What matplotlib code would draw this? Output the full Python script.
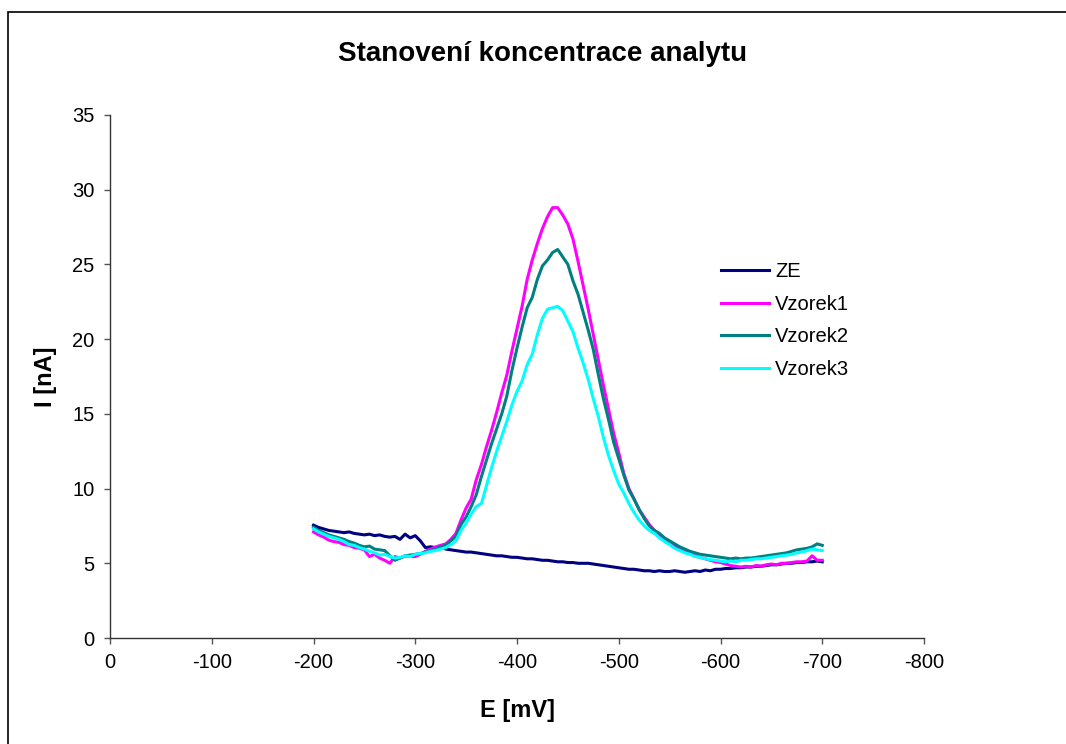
import numpy as np
import matplotlib
matplotlib.use('Agg')
import matplotlib.pyplot as plt
from matplotlib.patches import Rectangle

plt.rcParams['font.family'] = ['Liberation Sans', 'DejaVu Sans']
plt.rcParams['axes.unicode_minus'] = False

# potencial E [mV], krok 5 mV
e_mv = list(range(-200, -701, -5))

ze = [7.55, 7.4, 7.3, 7.2, 7.15, 7.1, 7.05, 7.1, 7.0, 6.95,
      6.9, 6.95, 6.85, 6.9, 6.8, 6.75, 6.8, 6.6, 6.95, 6.7,
      6.85, 6.5, 6.05, 6.1, 6.05, 6.1, 5.95, 5.9, 5.85, 5.8,
      5.75, 5.75, 5.7, 5.65, 5.6, 5.55, 5.5, 5.5, 5.45, 5.4,
      5.4, 5.35, 5.3, 5.3, 5.25, 5.2, 5.2, 5.15, 5.1, 5.1,
      5.05, 5.05, 5.0, 5.0, 5.0, 4.95, 4.9, 4.85, 4.8, 4.75,
      4.7, 4.65, 4.6, 4.6, 4.55, 4.5, 4.5, 4.45, 4.5, 4.45,
      4.45, 4.5, 4.45, 4.4, 4.45, 4.5, 4.45, 4.55, 4.5, 4.6,
      4.6, 4.65, 4.65, 4.7, 4.7, 4.75, 4.75, 4.8, 4.8, 4.85,
      4.9, 4.9, 4.95, 5.0, 5.0, 5.05, 5.05, 5.1, 5.1, 5.15,
      5.1]

vzorek1 = [7.1, 6.9, 6.75, 6.55, 6.45, 6.4, 6.25, 6.2, 6.05, 6.0,
           5.9, 5.45, 5.6, 5.35, 5.2, 5.0, 5.45, 5.35, 5.5, 5.45,
           5.45, 5.6, 5.8, 5.95, 6.1, 6.2, 6.3, 6.6, 7.0, 7.9,
           8.7, 9.3, 10.6, 11.6, 12.8, 13.9, 15.1, 16.4, 17.6, 19.2,
           20.7, 22.2, 24.0, 25.3, 26.4, 27.4, 28.2, 28.8, 28.8, 28.3,
           27.7, 26.7, 25.2, 23.6, 22.0, 20.3, 18.6, 16.9, 15.3, 13.7,
           12.4, 11.0, 10.0, 9.3, 8.6, 8.1, 7.6, 7.2, 6.9, 6.6,
           6.35, 6.15, 6.0, 5.85, 5.7, 5.5, 5.4, 5.3, 5.2, 5.1,
           5.05, 4.95, 4.85, 4.8, 4.75, 4.8, 4.75, 4.85, 4.8, 4.9,
           4.95, 4.9, 5.0, 5.0, 5.05, 5.1, 5.1, 5.15, 5.5, 5.2,
           5.2]

vzorek2 = [7.4, 7.2, 7.05, 6.9, 6.8, 6.7, 6.6, 6.45, 6.35, 6.2,
           6.1, 6.15, 5.95, 5.9, 5.85, 5.5, 5.2, 5.35, 5.5, 5.55,
           5.6, 5.65, 5.75, 5.85, 5.95, 6.1, 6.2, 6.5, 6.8, 7.6,
           8.1, 8.8, 9.6, 10.8, 11.9, 13.0, 14.0, 15.0, 16.2, 17.9,
           19.4, 20.8, 22.1, 22.8, 24.0, 24.9, 25.3, 25.8, 26.0, 25.5,
           25.0, 23.9, 23.0, 21.8, 20.6, 19.3, 17.6, 16.0, 14.6, 13.1,
           12.0, 10.9, 9.9, 9.3, 8.6, 8.0, 7.5, 7.2, 7.0, 6.7,
           6.5, 6.3, 6.1, 5.95, 5.8, 5.7, 5.6, 5.55, 5.5, 5.45,
           5.4, 5.35, 5.3, 5.35, 5.3, 5.35, 5.35, 5.4, 5.45, 5.5,
           5.55, 5.6, 5.65, 5.7, 5.8, 5.9, 5.95, 6.0, 6.1, 6.3,
           6.2]

vzorek3 = [7.3, 7.1, 6.95, 6.8, 6.7, 6.6, 6.45, 6.25, 6.2, 6.05,
           5.95, 5.8, 5.7, 5.55, 5.6, 5.45, 5.35, 5.4, 5.5, 5.45,
           5.6, 5.65, 5.7, 5.8, 5.85, 5.95, 6.05, 6.25, 6.5, 7.2,
           7.7, 8.3, 8.8, 9.0, 10.2, 11.4, 12.5, 13.5, 14.5, 15.6,
           16.5, 17.2, 18.3, 19.0, 20.3, 21.4, 22.0, 22.1, 22.2, 21.9,
           21.2, 20.5, 19.4, 18.4, 17.3, 16.0, 14.8, 13.4, 12.2, 11.2,
           10.3, 9.7, 9.0, 8.4, 7.9, 7.5, 7.2, 7.0, 6.7, 6.45,
           6.25, 6.0, 5.85, 5.7, 5.6, 5.45, 5.4, 5.3, 5.25, 5.2,
           5.15, 5.1, 5.15, 5.1, 5.2, 5.2, 5.25, 5.3, 5.3, 5.35,
           5.4, 5.45, 5.5, 5.55, 5.6, 5.7, 5.75, 5.85, 5.95, 5.9,
           5.85]

serie = [('ZE', ze, '#000080'),
         ('Vzorek1', vzorek1, '#FF00FF'),
         ('Vzorek2', vzorek2, '#008080'),
         ('Vzorek3', vzorek3, '#00FFFF')]

x_ticks = [0, -100, -200, -300, -400, -500, -600, -700, -800]
y_ticks = [0, 5, 10, 15, 20, 25, 30, 35]

fig = plt.figure(figsize=(10.66, 7.44), dpi=100)
ax = fig.add_axes([110 / 1066, 1 - 638 / 744, 814 / 1066, 523 / 744])

for nazev, hodnoty, barva in serie:
    ax.plot(e_mv, hodnoty, color=barva, lw=2.2, label=nazev)

ax.set_xlim(0, -800)
ax.set_ylim(0, 35)
ax.set_xticks(x_ticks)
ax.set_yticks(y_ticks)
ax.tick_params(labelsize=14.5, length=4, width=1, color='#555555', pad=7)

for s in ['top', 'right']:
    ax.spines[s].set_visible(False)
for s in ['left', 'bottom']:
    ax.spines[s].set_color('#333333')
    ax.spines[s].set_linewidth(1)

ax.set_xlabel('E [mV]', fontsize=17, fontweight='bold', labelpad=19)
ax.set_ylabel('I [nA]', fontsize=17, fontweight='bold', labelpad=11)
fig.text(543 / 1066, 1 - 54 / 744, 'Stanovení koncentrace analytu',
         fontsize=20, fontweight='bold', ha='center', va='center')

ax.legend(loc='upper left', bbox_to_anchor=(721 / 1066, 1 - 262 / 744),
          bbox_transform=fig.transFigure, frameon=False, fontsize=14.5,
          handlelength=2.4, handletextpad=0.3, labelspacing=0.68,
          borderpad=0, borderaxespad=0)

# okraj grafu (jen levy a horni je videt)
fig.add_artist(Rectangle((8 / 1066, -0.1), 1.2, 1.1 - 12 / 744,
                         transform=fig.transFigure, fill=False,
                         edgecolor='black', lw=1.2, clip_on=False))

fig.savefig('out.png', dpi=100)
